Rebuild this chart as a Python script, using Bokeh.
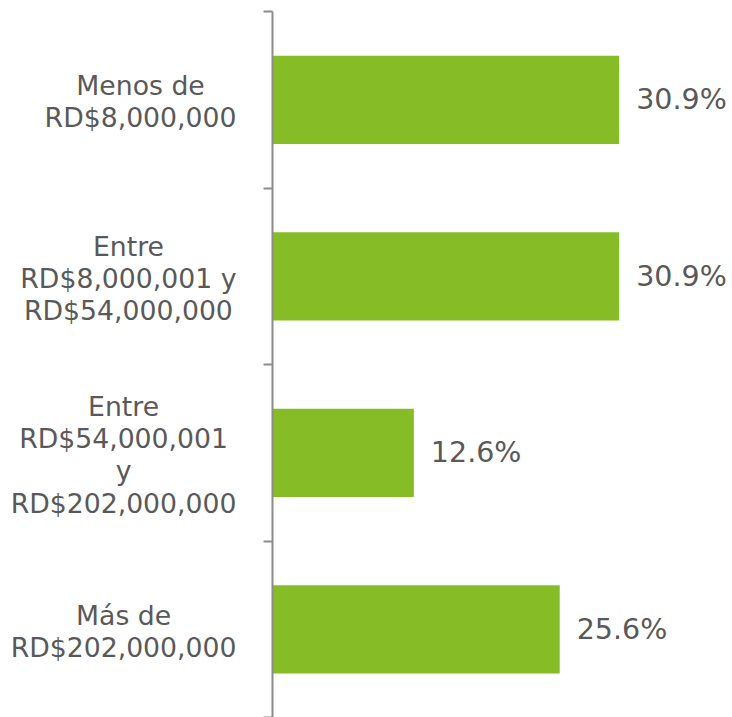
from bokeh.plotting import figure
from bokeh.layouts import row
from bokeh.models import ColumnDataSource, Range1d, FixedTicker
from bokeh.embed import file_html
from bokeh.resources import INLINE
from bokeh.core.properties import value

categories = [
    "Menos de\nRD$8,000,000",
    "Entre\nRD$8,000,001 y\nRD$54,000,000",
    "Entre\nRD$54,000,001\ny\nRD$202,000,000",
    "Más de\nRD$202,000,000",
]
values = [30.9, 30.9, 12.6, 25.6]
value_labels = ["30.9%", "30.9%", "12.6%", "25.6%"]

positions = list(range(len(categories)))
source = ColumnDataSource(dict(y=positions, v=values, lab=value_labels, cat=categories))

FONT = "DejaVu Sans"
GREY_TEXT = "#595959"
AXIS_GREY = "#8c8c8c"

y_range = Range1d(len(categories) - 0.5, -0.5)

# left panel: category labels
lf = figure(width=250, height=717, output_backend="svg", toolbar_location=None,
            x_range=Range1d(0, 1), y_range=y_range,
            x_axis_location=None, y_axis_location=None,
            min_border_left=0, min_border_right=0, min_border_top=11, min_border_bottom=0)
lf.outline_line_color = None
lf.grid.visible = False
lf.text(x=1, y="y", text="cat", source=source, x_offset=-14, y_offset=2,
        anchor=value("center_right"), text_align="center", text_baseline="middle",
        text_font=value(FONT), text_font_size="26.7px", text_color=GREY_TEXT,
        text_line_height=1.04)

# bar panel
p = figure(width=482, height=717, output_backend="svg", toolbar_location=None,
           x_range=Range1d(0, 41), y_range=y_range,
           x_axis_location=None,
           min_border_left=22, min_border_right=0, min_border_top=11, min_border_bottom=0)
p.outline_line_color = None
p.grid.visible = False

p.hbar(y="y", right="v", left=0, height=0.5, source=source,
       fill_color="#86BC25", line_color=None)

p.text(x="v", y="y", text="lab", source=source, x_offset=17,
       text_align="left", text_baseline="middle",
       text_font=value(FONT), text_font_size="28.5px", text_color=GREY_TEXT)

ax = p.yaxis[0]
ax.ticker = FixedTicker(ticks=[i - 0.5 for i in range(len(categories) + 1)])
ax.major_tick_out = 9
ax.major_tick_in = 0
ax.minor_tick_out = 0
ax.minor_tick_in = 0
ax.major_tick_line_color = AXIS_GREY
ax.major_tick_line_width = 2
ax.axis_line_color = AXIS_GREY
ax.axis_line_width = 2
ax.major_label_text_color = None
ax.major_label_text_font_size = "0px"
ax.major_label_standoff = 0

layout = row(lf, p, spacing=0)
open("out.html", "w").write(file_html(layout, INLINE))
